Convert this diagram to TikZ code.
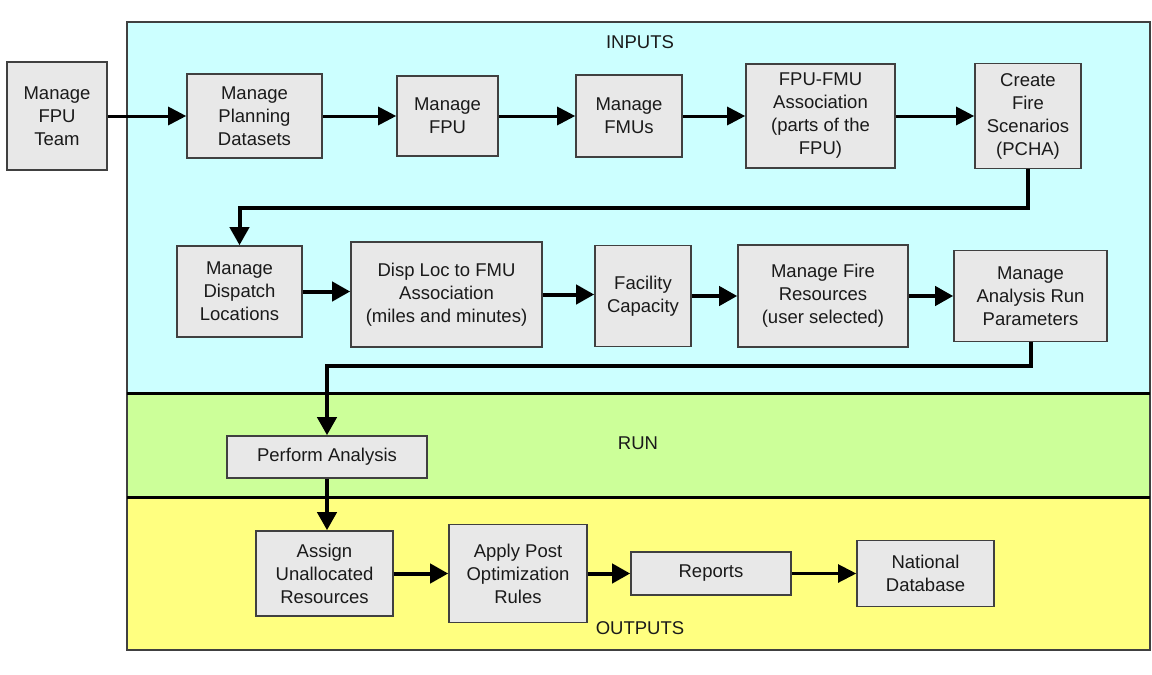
\documentclass[tikz,border=0pt]{standalone}
\usepackage{fontspec}
\setmainfont{Liberation Sans}
\usetikzlibrary{arrows.meta}
\definecolor{cyanlane}{HTML}{CCFFFF}
\definecolor{greenlane}{HTML}{CCFF99}
\definecolor{yellowlane}{HTML}{FFFF80}
\definecolor{boxfill}{HTML}{E8E8E8}
\definecolor{boxline}{HTML}{404040}
\definecolor{txt}{HTML}{1A1A1A}
\tikzset{
  procbox/.style={draw=boxline, line width=1.6pt, fill=boxfill, align=center, inner sep=0pt,
    text=txt, font=\fontsize{18.5}{23}\selectfont},
  lanelabel/.style={text=txt, font=\fontsize{18.5}{23}\selectfont, inner sep=0pt},
  flow/.style={line width=3pt, -{Triangle[length=18pt,width=18pt]}},
  flowthick/.style={line width=4pt, -{Triangle[length=18pt,width=19pt]}},
  flowthin/.style={line width=2.2pt, -{Triangle[length=18pt,width=18pt]}},
}
\begin{document}
\begin{tikzpicture}[x=1pt,y=-1pt]
\useasboundingbox (0,0) rectangle (1152,675);
\fill[white] (0,0) rectangle (1152,675);
% lanes
\fill[cyanlane] (127,22) rectangle (1150,393);
\fill[greenlane] (127,393) rectangle (1150,497);
\fill[yellowlane] (127,497) rectangle (1150,650);
\draw[boxline, line width=2pt] (127,22) rectangle (1150,650);
\draw[black, line width=3pt] (127,393) -- (1150,393);
\draw[black, line width=3pt] (127,497) -- (1150,497);
\node[lanelabel] (inputs) at (640,42) {INPUTS};
\node[lanelabel] (run) at (638,443) {RUN};
\node[lanelabel] (outputs) at (640,628) {OUTPUTS};
% top row
\node[procbox, minimum width=100pt, minimum height=108pt] (team) at (57,116) {Manage\\FPU\\Team};
\node[procbox, minimum width=135pt, minimum height=84pt] (plan) at (254.5,116) {Manage\\Planning\\Datasets};
\node[procbox, minimum width=101pt, minimum height=80pt] (fpu) at (447.5,116) {Manage\\FPU};
\node[procbox, minimum width=106pt, minimum height=82pt] (fmu) at (629,116) {Manage\\FMUs};
\node[procbox, minimum width=149pt, minimum height=104pt] (assoc) at (820.5,116) {FPU-FMU\\Association\\(parts of the\\FPU)};
\node[procbox, minimum width=106pt, minimum height=105pt] (fire) at (1028,116) {Create\\Fire\\Scenarios\\(PCHA)};
% second row
\node[procbox, minimum width=125pt, minimum height=91pt] (disp) at (239.5,291.5) {Manage\\Dispatch\\Locations};
\node[procbox, minimum width=191pt, minimum height=105pt] (disploc) at (446.5,294.5) {Disp Loc to FMU\\Association\\(miles and minutes)};
\node[procbox, minimum width=96pt, minimum height=101pt] (fac) at (643,296) {Facility\\Capacity};
\node[procbox, minimum width=170pt, minimum height=102pt] (res) at (823,296) {Manage Fire\\Resources\\(user selected)};
\node[procbox, minimum width=153pt, minimum height=91pt] (param) at (1030.5,296) {Manage\\Analysis Run\\Parameters};
% run
\node[procbox, minimum width=200pt, minimum height=42pt] (perf) at (327,457) {Perform Analysis};
% outputs
\node[procbox, minimum width=137pt, minimum height=85pt] (assign) at (324.5,573.5) {Assign\\Unallocated\\Resources};
\node[procbox, minimum width=138pt, minimum height=98pt] (post) at (518,573.5) {Apply Post\\Optimization\\Rules};
\node[procbox, minimum width=160pt, minimum height=43pt] (rep) at (711,573.5) {Reports};
\node[procbox, minimum width=137pt, minimum height=66pt] (nat) at (925.5,573.5) {National\\Database};
% connectors
\draw[flow] (team.east) -- (plan.west);
\draw[flow] (plan.east) -- (fpu.west);
\draw[flow] (fpu.east) -- (fmu.west);
\draw[flow] (fmu.east) -- (assoc.west);
\draw[flow] (assoc.east) -- (fire.west);
\draw[flowthick] (fire.south) -- ++(0,39) -| (disp.north);
\draw[flowthick] (disp.east) -- (disploc.west |- disp.east);
\draw[flowthick] (disploc.east) -- (fac.west |- disploc.east);
\draw[flowthick] (fac.east) -- (res.west);
\draw[flowthick] (res.east) -- (param.west);
\draw[flowthick] (param.south) -- ++(0,24) -| (perf.north);
\draw[flowthick] (perf.south) -- (perf.south |- assign.north);
\draw[flowthick] (assign.east) -- (post.west);
\draw[flowthick] (post.east) -- (rep.west);
\draw[flowthin] (rep.east) -- (nat.west);
\end{tikzpicture}
\end{document}
